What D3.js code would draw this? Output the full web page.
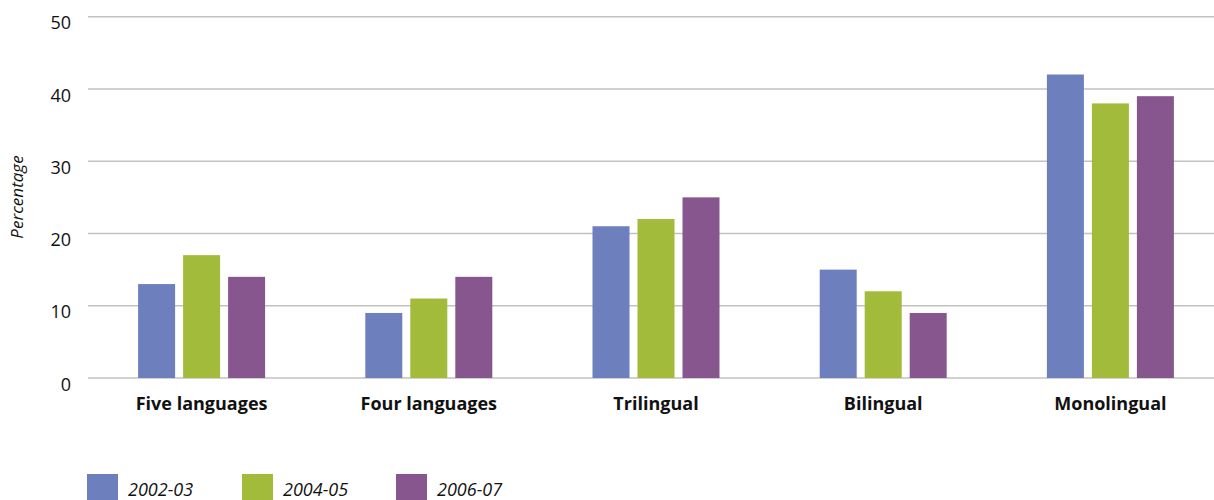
<!DOCTYPE html>
<html>
<head>
<meta charset="utf-8">
<script src="https://cdn.jsdelivr.net/npm/d3@7"></script>
<style>
  html, body { margin: 0; padding: 0; background: #fff; }
  svg { display: block; font-family: "Open Sans", "Noto Sans", sans-serif; }
</style>
</head>
<body>
<svg id="chart" width="1214" height="500"></svg>
<script>
// Share of pupils by number of languages studied
const categories = ["Five languages", "Four languages", "Trilingual", "Bilingual", "Monolingual"];
const seriesNames = ["2002-03", "2004-05", "2006-07"];
const values2002 = [13, 9, 21, 15, 42];
const values2004 = [17, 11, 22, 12, 38];
const values2006 = [14, 14, 25, 9, 39];
const yTicks = [0, 10, 20, 30, 40, 50];
const colors = ["#6d7fbd", "#a2bb3a", "#87568f"];

const series = [values2002, values2004, values2006];

const svg = d3.select("#chart");
const plotLeft = 88, plotRight = 1224, plotTop = 16.7, plotBottom = 378;

const x = d3.scaleBand().domain(categories).range([plotLeft, plotRight]).paddingInner(0).paddingOuter(0);
const y = d3.scaleLinear().domain([0, 50]).range([plotBottom, plotTop]);

// gridlines
svg.append("g").selectAll("line").data(yTicks).join("line")
  .attr("x1", plotLeft).attr("x2", 1214)
  .attr("y1", d => y(d)).attr("y2", d => y(d))
  .attr("stroke", "#c2c2c2").attr("stroke-width", 1.6);

// y tick labels, set slightly below their gridlines
const yAxis = d3.axisLeft(y).tickValues(yTicks).tickSize(0).tickPadding(0);
const gy = svg.append("g").attr("transform", `translate(71,0)`).call(yAxis);
gy.select(".domain").remove();
gy.selectAll("text")
  .attr("font-family", "'Open Sans', sans-serif")
  .attr("font-size", 18).attr("fill", "#111").attr("dy", "0.68em");

// y title
svg.append("text")
  .attr("transform", "translate(23,197) rotate(-90)")
  .attr("text-anchor", "middle")
  .attr("font-style", "italic").attr("font-size", 17).attr("fill", "#111")
  .text("Percentage");

// bars
const barW = 37, gap = 8;
const inner = d3.scaleBand().domain(d3.range(series.length))
  .range([-(barW * 1.5 + gap), barW * 1.5 + gap]).paddingInner(gap / (barW + gap)).paddingOuter(0);

series.forEach((vals, si) => {
  svg.append("g").selectAll("rect").data(vals).join("rect")
    .attr("x", (d, i) => x(categories[i]) + x.bandwidth() / 2 + inner(si))
    .attr("width", inner.bandwidth())
    .attr("y", d => y(d))
    .attr("height", d => y(0) - y(d))
    .attr("fill", colors[si]);
});

// category labels
const xAxis = d3.axisBottom(x).tickSize(0).tickPadding(0);
const gx = svg.append("g").attr("transform", `translate(0,${plotBottom})`).call(xAxis);
gx.select(".domain").remove();
gx.selectAll("text")
  .attr("dy", 0).attr("y", 32)
  .attr("font-family", "'Open Sans', sans-serif")
  .attr("font-weight", "bold").attr("font-size", 18).attr("fill", "#111");

// legend
const legendX = [87, 242, 396];
const lg = svg.append("g");
seriesNames.forEach((name, i) => {
  lg.append("rect").attr("x", legendX[i]).attr("y", 474).attr("width", 31).attr("height", 30).attr("fill", colors[i]);
  lg.append("text").attr("x", legendX[i] + 41).attr("y", 496)
    .attr("font-style", "italic").attr("font-size", 18).attr("fill", "#111")
    .text(name);
});
</script>
</body>
</html>
